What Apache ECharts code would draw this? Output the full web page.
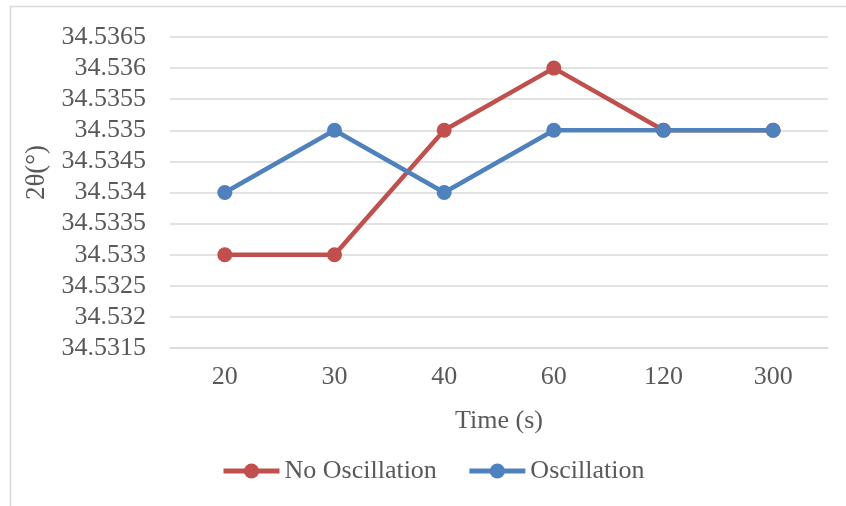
<!DOCTYPE html>
<html>
<head>
<meta charset="utf-8">
<script src="https://cdn.jsdelivr.net/npm/echarts@6/dist/echarts.min.js"></script>
<style>html,body{margin:0;padding:0;background:#fff}#c{width:846px;height:506px}</style>
</head>
<body>
<div id="c"></div>
<script>
const categories = ['20', '30', '40', '60', '120', '300'];
const noOscillation = [34.533, 34.533, 34.535, 34.536, 34.535, 34.535];
const oscillation = [34.534, 34.535, 34.534, 34.535, 34.535, 34.535];
const seriesNames = ['No Oscillation', 'Oscillation'];
const yMin = 34.5315, yMax = 34.5365, yStep = 0.0005;

const FONT = '"Liberation Serif", "Times New Roman", serif';
const TXT = '#595959';
const chart = echarts.init(document.getElementById('c'), null, {renderer: 'canvas'});
chart.setOption({
  animation: false,
  backgroundColor: '#fff',
  graphic: [{
    type: 'rect', silent: true,
    shape: {x: 10.5, y: 6.5, width: 900, height: 600},
    style: {fill: 'none', stroke: '#d9d9d9', lineWidth: 1.5}
  }],
  grid: {left: 170, right: 18, top: 37, bottom: 158},
  legend: {
    left: 216, top: 453,
    itemWidth: 56, itemHeight: 19, itemGap: 30,
    lineStyle: {width: 5},
    textStyle: {fontFamily: FONT, fontSize: 26, color: TXT},
    data: seriesNames
  },
  xAxis: {
    type: 'category', data: categories, boundaryGap: true,
    name: 'Time (s)', nameLocation: 'middle', nameGap: 60,
    nameTextStyle: {fontFamily: FONT, fontSize: 26, color: TXT},
    axisLine: {show: true, lineStyle: {color: '#d9d9d9', width: 1.5}},
    axisTick: {show: false},
    axisLabel: {fontFamily: FONT, fontSize: 26, color: TXT, margin: 16}
  },
  yAxis: {
    type: 'value', min: yMin, max: yMax, interval: yStep,
    name: '2θ(°)', nameLocation: 'middle', nameGap: 117,
    nameTextStyle: {fontFamily: FONT, fontSize: 27, color: TXT, padding: [0, 0, 0, 40]},
    axisLine: {show: false}, axisTick: {show: false},
    splitLine: {lineStyle: {color: '#d9d9d9', width: 1.5}},
    axisLabel: {fontFamily: FONT, fontSize: 26, color: TXT, margin: 24,
      formatter: v => String(+(+v).toFixed(4))}
  },
  series: [
    {name: seriesNames[0], type: 'line', data: noOscillation,
     symbol: 'circle', symbolSize: 15,
     itemStyle: {color: '#C0504D'}, lineStyle: {color: '#C0504D', width: 4.5}},
    {name: seriesNames[1], type: 'line', data: oscillation,
     symbol: 'circle', symbolSize: 15,
     itemStyle: {color: '#4F81BD'}, lineStyle: {color: '#4F81BD', width: 4.5}}
  ]
});
</script>
</body>
</html>
